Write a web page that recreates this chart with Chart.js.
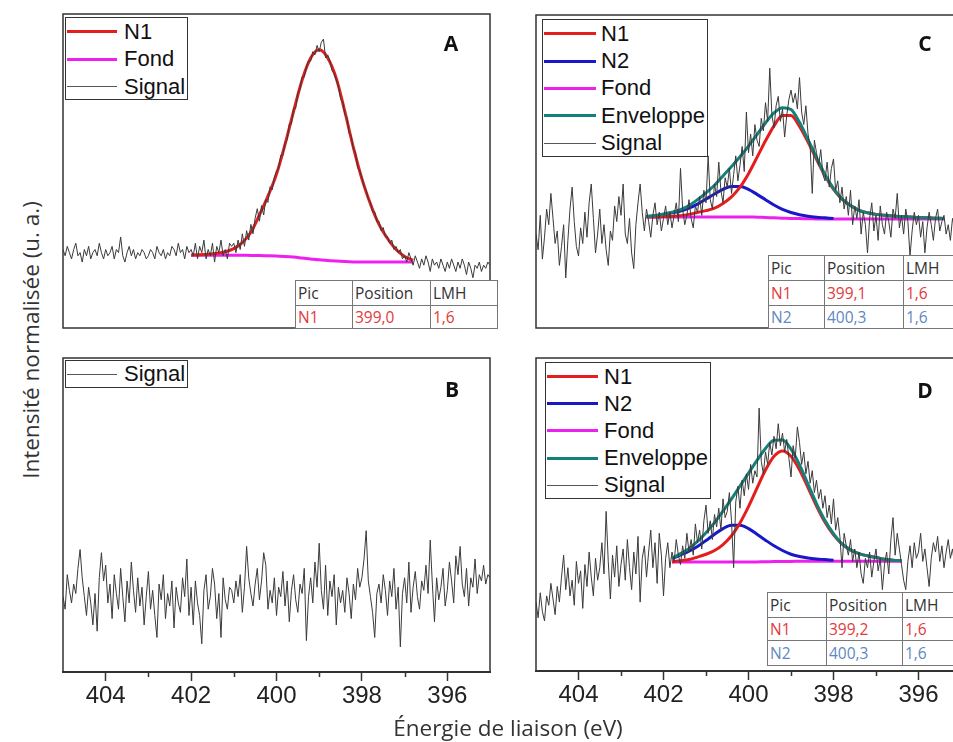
<!DOCTYPE html>
<html lang="fr">
<head>
<meta charset="utf-8">
<title>Spectres N 1s</title>
<script src="https://cdn.jsdelivr.net/npm/chart.js@4"></script>
<style>
  html, body { margin: 0; padding: 0; width: 953px; height: 742px; overflow: hidden; background: #fff; }
  body { position: relative; font-family: "Liberation Sans", Arial, sans-serif; }
  canvas { position: absolute; }
  .legend { position: absolute; background: #fff; border: 1px solid #333; box-sizing: border-box; font-size: 22px; color: #111; }
  .legend .row { display: flex; align-items: center; white-space: nowrap; }
  .legend .sw { display: inline-block; flex: none; }
  .letter { position: absolute; font: 700 21px "Open Sans", sans-serif; color: #111; transform: translate(-50%, -50%); }
  table.res { position: absolute; border-collapse: collapse; table-layout: fixed; background: #fff; font: 15.5px "Open Sans", sans-serif; color: #333; }
  table.res td { border: 1px solid #777; padding: 0 0 0 2px; white-space: nowrap; overflow: hidden; vertical-align: middle; }
  .red { color: #e23a3a; }
  .blue { color: #6088c0; }
  #ytitle { position: absolute; left: 30px; top: 340px; transform: translate(-50%, -50%) rotate(-90deg); font: 22.5px "Open Sans", sans-serif; color: #333; white-space: nowrap; }
  #xtitle { position: absolute; left: 508px; top: 727px; transform: translate(-50%, -50%); font: 22.5px "Open Sans", sans-serif; color: #333; white-space: nowrap; }
</style>
</head>
<body>
<canvas id="chartA" width="431" height="318" style="left:61px; top:12px;"></canvas>
<canvas id="chartC" width="429" height="317" style="left:534px; top:13px;"></canvas>
<canvas id="chartB" width="431" height="356" style="left:61px; top:356px;"></canvas>
<canvas id="chartD" width="429" height="355" style="left:534px; top:356px;"></canvas>

<div id="ytitle">Intensité normalisée (u. a.)</div>
<div id="xtitle">Énergie de liaison (eV)</div>

<script>
// signal sampled every 0.05 eV from 405 down to 395 eV (intensity in % of panel height)
const signalA = [
  25,23,26,24,22,25,27,23,24,21,25,23,26,22,24,25,23,27,24,22,
  25,23,24,26,22,25,24,29,23,21,24,26,23,25,22,24,23,25,24,22,
  23,25,24,22,26,24,23,25,22,24,23,26,25,23,27,24,25,22,26,24,
  25,23,27,22,26,24,28,22,25,23,27,21,26,24,28,23,25,22,27,26,
  27,24,28,25,30,26,31,28,33,30,35,38,34,39,36,41,40,45,44,48,
  50,51,55,55,59,60,65,65,70,70,75,76,80,80,83,85,85,88,87,90,
  88,91,92,86,87,85,82,81,79,77,73,72,68,67,62,61,57,56,51,50,
  48,45,44,41,40,37,37,34,34,31,32,29,29,27,28,25,26,24,25,22,
  23,21,24,22,20,23,21,19,22,20,23,21,18,22,20,21,19,22,20,18,
  21,19,22,20,18,21,19,22,20,17,21,19,16,20,19,21,18,20,19,21,
  20
];
const signalB = [
  24,20,31,26,22,28,25,33,39,30,24,18,27,22,15,25,13,30,38,29,
  34,22,28,17,31,25,20,33,24,16,29,22,35,26,19,30,21,27,15,24,
  32,20,26,18,11,28,23,31,17,25,21,29,14,27,22,19,30,24,36,18,
  27,15,29,22,18,9,26,31,20,24,33,28,17,25,11,30,23,20,27,26,
  22,29,24,31,19,27,40,30,25,21,28,33,23,29,38,34,20,26,22,30,
  18,27,24,32,21,29,16,26,31,23,19,28,25,33,10,24,30,22,35,27,
  41,26,20,34,18,29,24,31,15,27,22,26,19,30,25,17,28,23,33,27,
  30,36,45,29,24,19,11,25,28,22,31,26,18,29,24,33,20,27,8,25,
  30,22,35,19,27,32,24,20,29,26,34,25,42,28,16,30,23,27,33,21,
  26,35,29,22,37,31,40,28,24,33,21,30,27,36,25,31,29,34,28,31,
  30
];
const signalC = [
  30,25,36,22,29,38,33,43,35,27,31,20,26,33,16,28,38,45,34,26,
  23,32,27,37,29,40,46,35,24,30,38,27,33,25,20,31,28,39,34,42,
  36,46,30,27,35,24,19,33,40,46,37,31,38,34,29,36,40,33,37,31,
  35,39,33,37,32,36,40,34,51,38,33,36,41,35,32,39,37,42,36,44,
  40,55,41,38,46,42,53,44,40,48,45,51,43,49,55,47,52,58,50,69,
  56,62,55,65,60,58,67,63,72,66,83,68,64,71,74,66,70,61,68,73,
  76,72,75,70,80,69,65,71,62,58,43,60,56,52,57,49,47,53,45,51,
  54,44,47,40,45,38,42,36,44,33,39,35,41,30,37,33,24,35,40,31,
  36,28,39,33,30,37,34,29,38,35,43,32,36,30,38,34,23,31,37,33,
  36,29,34,24,32,37,33,28,35,38,31,34,36,30,33,28,35,32,37,33,
  34
];
const signalD = [
  22,17,25,19,16,24,21,28,23,18,27,22,30,37,26,33,24,29,21,35,
  28,32,20,34,27,38,30,24,36,29,33,41,31,51,35,23,37,30,40,27,
  34,39,29,42,33,26,38,31,43,22,36,40,30,38,45,33,41,28,44,37,
  24,36,41,33,38,35,42,37,34,40,36,44,38,42,37,47,41,45,39,48,
  53,44,48,42,50,46,52,45,55,49,51,57,48,33,54,59,52,61,56,63,
  58,66,60,64,62,84,67,63,70,66,73,69,75,71,79,72,76,70,74,68,
  62,72,68,78,73,66,70,63,67,60,64,57,61,55,58,52,56,49,53,47,
  55,45,49,43,33,44,40,37,42,35,39,33,38,31,28,36,33,38,30,35,
  39,32,36,26,34,38,31,42,49,37,44,39,34,29,26,35,40,33,41,36,
  38,44,35,39,33,27,36,41,38,43,35,40,33,38,42,36,39,34,37,40,
  38
];
const signalStart = 405, signalStep = 0.05;

// fitted components, sampled every 0.2 eV from each panel's fit start
const fitStep = 0.2;
const fitStartA = 402.0;
const n1A = [23.2,23.3,23.5,23.8,24.3,25.3,27.2,30.5,36.0,42.0,49.0,58.5,69.0,79.0,86.0,88.6,86.0,79.5,69.0,57.5,47.5,39.5,33.0,28.5,25.0,22.8,21.6];
const fondA = [23.2,23.2,23.2,23.2,23.2,23.2,23.2,23.1,23.1,23.0,22.9,22.8,22.6,22.3,22.0,21.7,21.5,21.3,21.15,21.05,21.0,21.0,21.0,21.0,21.0,21.0,21.0];

const fitStartC = 402.4;
const n1C = [35.5,35.5,35.6,35.7,35.9,36.3,36.9,37.5,38.3,39.8,41.9,45.0,49.3,54.5,59.8,64.6,67.9,67.9,64.4,59.4,53.9,48.6,44.3,41.2,39.1,37.6,36.8,36.3,36.0,35.8,35.6,35.5,35.3,35.2,35.1,35.0];
const n2C = [35.6,35.9,36.3,36.8,37.4,38.3,39.6,41.2,42.8,44.3,45.2,45.2,44.3,42.7,41.0,39.3,37.9,36.9,36.2,35.7,35.4,35.2,35.0];
const fondC = [35.5,35.5,35.5,35.5,35.5,35.5,35.5,35.5,35.5,35.5,35.5,35.5,35.5,35.4,35.3,35.2,35.1,35.0,34.95,34.9,34.85,34.8,34.8,34.8,34.8,34.8,34.8,34.8,34.8,34.8,34.8,34.8,34.8,34.8,34.8,34.8];
const envC = [35.6,35.9,36.4,37.0,37.8,39.1,41.0,43.2,45.6,48.6,51.6,54.7,58.1,61.8,65.5,68.7,70.4,69.8,65.7,60.2,54.5,49.0,44.6,41.2,39.1,37.6,36.8,36.3,36.0,35.8,35.6,35.5,35.3,35.2,35.1,35.0];

const fitStartD = 401.8;
const n1D = [34.9,35.2,35.6,36.4,37.3,38.5,40.4,43.2,47.3,52.5,58.4,64.2,68.6,70.3,68.6,64.3,58.6,52.7,47.5,43.5,40.6,38.7,37.5,36.8,36.3,35.7,35.4,35.2];
const n2D = [35.9,37.1,38.3,39.8,41.7,43.7,45.5,46.6,46.6,45.5,43.7,41.8,40.0,38.5,37.3,36.6,36.1,35.8,35.6,35.4];
const fondD = [34.8,34.8,34.8,34.8,34.8,34.8,34.8,34.8,34.8,34.8,34.85,34.9,34.95,35.0,35.0,35.05,35.05,35.05,35.05,35.05,35.05,35.05,35.05,35.05,35.05,35.05,35.05,35.05];
const envD = [36.0,37.5,39.1,41.4,44.2,47.4,51.1,55.0,59.1,63.2,67.3,71.1,73.7,73.8,70.9,65.9,59.7,53.5,48.1,43.9,40.6,38.7,37.5,36.8,36.3,35.7,35.4,35.2];

// x axis
const majorTicks = [404, 402, 400, 398, 396];
const minorTicks = [403, 401, 399, 397];

// result tables
const tableA = [['Pic', 'Position', 'LMH'], ['N1', '399,0', '1,6']];
const tableC = [['Pic', 'Position', 'LMH'], ['N1', '399,1', '1,6'], ['N2', '400,3', '1,6']];
const tableD = [['Pic', 'Position', 'LMH'], ['N1', '399,2', '1,6'], ['N2', '400,3', '1,6']];

const COL = { n1: '#e41e1e', n2: '#1818c8', fond: '#ee20ee', env: '#14807a', sig: '#3a3a3a' };

function pts(start, step, values) {
  return values.map((v, i) => ({ x: +(start - i * step).toFixed(2), y: v }));
}
function sig(values) {
  return { label: 'Signal', data: pts(signalStart, signalStep, values), borderColor: COL.sig, borderWidth: 1, tension: 0, order: 0 };
}
function fit(label, start, values, color, width, order) {
  return { label, data: pts(start, fitStep, values), borderColor: color, borderWidth: width, cubicInterpolationMode: 'monotone', order };
}

// panel frame
const framePlugin = {
  id: 'frame',
  afterDraw(chart) {
    const a = chart.chartArea, ctx = chart.ctx;
    ctx.save();
    ctx.strokeStyle = '#333';
    ctx.lineWidth = 1.5;
    ctx.strokeRect(a.left, a.top, a.right - a.left, a.bottom - a.top);
    ctx.restore();
  }
};
// short minor ticks between the labelled ones
const minorPlugin = {
  id: 'minorTicks',
  afterDraw(chart, args, opts) {
    if (!opts.show) return;
    const s = chart.scales.x, ctx = chart.ctx;
    ctx.save();
    ctx.strokeStyle = '#333';
    ctx.lineWidth = 1.5;
    minorTicks.forEach(v => {
      const px = Math.round(s.getPixelForValue(v)) + 0.5;
      ctx.beginPath();
      ctx.moveTo(px, s.top);
      ctx.lineTo(px, s.top + 5);
      ctx.stroke();
    });
    ctx.restore();
  }
};

function makePanel(id, datasets, withAxis) {
  new Chart(document.getElementById(id), {
    type: 'line',
    data: { datasets },
    options: {
      responsive: false,
      animation: false,
      layout: { padding: { left: 2, right: 2, top: 2, bottom: withAxis ? 0 : 2 } },
      elements: { point: { radius: 0 } },
      plugins: { legend: { display: false }, tooltip: { enabled: false }, minorTicks: { show: withAxis } },
      scales: {
        x: {
          type: 'linear', min: 395, max: 405, reverse: true, display: withAxis,
          afterBuildTicks: s => { s.ticks = majorTicks.map(v => ({ value: v })); },
          afterFit: s => { if (withAxis) s.height = 40; },
          ticks: { font: { family: 'Liberation Sans', size: 24 }, color: '#222', padding: 1, maxRotation: 0, autoSkip: false },
          grid: { drawOnChartArea: false, tickLength: 9, tickColor: '#333', tickWidth: 1.5 },
          border: { display: true, color: '#333', width: 2 }
        },
        y: { min: 0, max: 100, display: false }
      }
    },
    plugins: [framePlugin, minorPlugin]
  });
}

makePanel('chartA', [
  fit('N1', fitStartA, n1A, COL.n1, 3, 2),
  fit('Fond', fitStartA, fondA, COL.fond, 3, 3),
  sig(signalA)
], false);

makePanel('chartB', [sig(signalB)], true);

makePanel('chartC', [
  fit('Enveloppe', fitStartC, envC, COL.env, 3, 1),
  fit('N1', fitStartC, n1C, COL.n1, 3, 2),
  fit('N2', fitStartC, n2C, COL.n2, 3, 3),
  fit('Fond', fitStartC, fondC, COL.fond, 3, 4),
  sig(signalC)
], false);

makePanel('chartD', [
  fit('Enveloppe', fitStartD, envD, COL.env, 3, 1),
  fit('N1', fitStartD, n1D, COL.n1, 3, 2),
  fit('N2', fitStartD, n2D, COL.n2, 3, 3),
  fit('Fond', fitStartD, fondD, COL.fond, 3, 4),
  sig(signalD)
], true);

// legends
function legend(box, items) {
  const el = document.createElement('div');
  el.className = 'legend';
  Object.assign(el.style, { left: box.x + 'px', top: box.y + 'px', width: box.w + 'px', height: box.h + 'px' });
  items.forEach(([text, color, width]) => {
    const row = document.createElement('div');
    row.className = 'row';
    row.style.height = box.row + 'px';
    const sw = document.createElement('span');
    sw.className = 'sw';
    Object.assign(sw.style, { width: box.sw + 'px', height: width + 'px', background: color, marginLeft: '1px', marginRight: box.gap + 'px' });
    row.appendChild(sw);
    row.appendChild(document.createTextNode(text));
    el.appendChild(row);
  });
  document.body.appendChild(el);
}
const fullItems = [['N1', COL.n1, 3], ['N2', COL.n2, 3], ['Fond', COL.fond, 3], ['Enveloppe', COL.env, 3], ['Signal', '#555', 1]];
legend({ x: 65, y: 17, w: 123, h: 83, row: 27.5, sw: 50, gap: 7 }, [['N1', COL.n1, 3], ['Fond', COL.fond, 3], ['Signal', '#555', 1]]);
legend({ x: 65, y: 360, w: 123, h: 28, row: 26, sw: 50, gap: 7 }, [['Signal', '#555', 1]]);
legend({ x: 542, y: 19, w: 166, h: 138, row: 27.4, sw: 52, gap: 5 }, fullItems);
legend({ x: 545, y: 362, w: 166, h: 137, row: 27.2, sw: 51, gap: 6 }, fullItems);

// panel letters
[['A', 451, 43], ['B', 452, 389], ['C', 925, 43], ['D', 925, 390]].forEach(([t, x, y]) => {
  const d = document.createElement('div');
  d.className = 'letter';
  d.style.left = x + 'px';
  d.style.top = y + 'px';
  d.textContent = t;
  document.body.appendChild(d);
});

// tables
function table(rows, x, y, widths, heights) {
  const t = document.createElement('table');
  t.className = 'res';
  t.style.left = x + 'px';
  t.style.top = y + 'px';
  t.style.width = widths.reduce((a, b) => a + b, 0) + 'px';
  rows.forEach((r, i) => {
    const tr = t.insertRow();
    tr.style.height = heights[i] + 'px';
    if (r[0] === 'N1') tr.className = 'red';
    if (r[0] === 'N2') tr.className = 'blue';
    r.forEach((c, j) => {
      const td = tr.insertCell();
      td.style.width = widths[j] + 'px';
      td.textContent = c;
    });
  });
  document.body.appendChild(t);
}
table(tableA, 295, 280, [54, 75, 64], [25, 23]);
table(tableC, 768, 255, [53, 76, 64], [25, 25, 23]);
table(tableD, 767, 592, [56, 73, 64], [25, 23, 25]);
</script>
</body>
</html>
